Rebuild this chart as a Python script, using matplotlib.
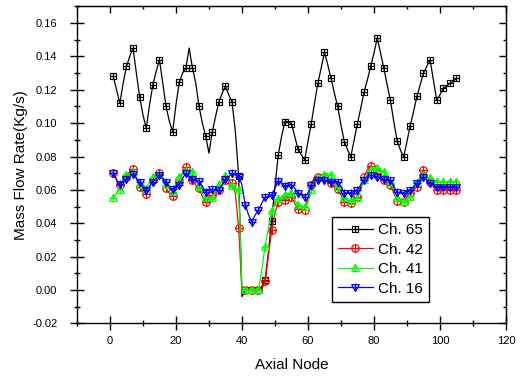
import numpy as np
import matplotlib
matplotlib.use("Agg")
import matplotlib.pyplot as plt
from matplotlib.path import Path
from matplotlib.ticker import MultipleLocator, FormatStrFormatter

plt.rcParams['font.family'] = ['Liberation Sans', 'DejaVu Sans']
plt.rcParams['axes.unicode_minus'] = False

nodes = np.arange(1, 106)

ch65 = [0.128, 0.120, 0.112, 0.124, 0.134, 0.140, 0.145, 0.130, 0.1156, 0.105,
        0.097, 0.111, 0.123, 0.131, 0.138, 0.124, 0.110, 0.101, 0.0948, 0.111,
        0.1246, 0.130, 0.133, 0.145, 0.133, 0.124, 0.110, 0.100, 0.0924, 0.082,
        0.0946, 0.104, 0.1126, 0.118, 0.122, 0.117, 0.1126, 0.095, 0.0686, -0.004,
        0.000, 0.000, 0.000, 0.000, 0.000, 0.002, 0.006, 0.022, 0.0416, 0.062,
        0.081, 0.092, 0.101, 0.101, 0.0998, 0.092, 0.0844, 0.081, 0.078, 0.089,
        0.0998, 0.112, 0.124, 0.133, 0.1426, 0.135, 0.1268, 0.118, 0.110, 0.099,
        0.089, 0.084, 0.080, 0.090, 0.0998, 0.109, 0.1186, 0.126, 0.134, 0.142,
        0.151, 0.142, 0.133, 0.123, 0.1136, 0.101, 0.0896, 0.084, 0.0798, 0.089,
        0.0986, 0.107, 0.116, 0.123, 0.130, 0.134, 0.138, 0.126, 0.114, 0.117,
        0.1208, 0.122, 0.124, 0.125, 0.127]

ch42 = [0.0704, 0.066, 0.063, 0.066, 0.068, 0.071, 0.0726, 0.067, 0.062, 0.059,
        0.0574, 0.062, 0.066, 0.069, 0.0704, 0.066, 0.061, 0.058, 0.0566, 0.062,
        0.066, 0.070, 0.0736, 0.070, 0.066, 0.063, 0.061, 0.056, 0.0526, 0.055,
        0.057, 0.059, 0.060, 0.063, 0.066, 0.065, 0.064, 0.058, 0.0374, 0.000,
        0.000, 0.000, 0.000, 0.000, 0.000, 0.000, 0.0054, 0.020, 0.036, 0.046,
        0.053, 0.054, 0.054, 0.055, 0.056, 0.052, 0.0484, 0.048, 0.048, 0.055,
        0.063, 0.068, 0.068, 0.0684, 0.068, 0.066, 0.064, 0.062, 0.0604, 0.057,
        0.0526, 0.052, 0.052, 0.054, 0.056, 0.062, 0.068, 0.072, 0.0744, 0.072,
        0.070, 0.068, 0.066, 0.064, 0.063, 0.058, 0.0536, 0.053, 0.053, 0.056,
        0.058, 0.060, 0.062, 0.068, 0.072, 0.068, 0.065, 0.062, 0.060, 0.060,
        0.060, 0.060, 0.060, 0.060, 0.060]

ch41 = [0.0554, 0.058, 0.060, 0.066, 0.069, 0.070, 0.071, 0.067, 0.063, 0.061,
        0.0604, 0.065, 0.068, 0.069, 0.069, 0.066, 0.063, 0.061, 0.059, 0.064,
        0.068, 0.070, 0.0716, 0.072, 0.071, 0.066, 0.062, 0.058, 0.055, 0.055,
        0.055, 0.059, 0.063, 0.066, 0.0684, 0.065, 0.0624, 0.061, 0.060, 0.001,
        0.000, 0.000, 0.000, 0.000, 0.000, 0.012, 0.026, 0.037, 0.0474, 0.051,
        0.0544, 0.056, 0.057, 0.058, 0.058, 0.054, 0.051, 0.050, 0.050, 0.052,
        0.060, 0.066, 0.067, 0.068, 0.069, 0.070, 0.069, 0.065, 0.062, 0.058,
        0.055, 0.054, 0.0536, 0.054, 0.055, 0.060, 0.066, 0.070, 0.072, 0.073,
        0.073, 0.072, 0.071, 0.068, 0.064, 0.060, 0.055, 0.053, 0.053, 0.054,
        0.056, 0.060, 0.064, 0.067, 0.069, 0.068, 0.067, 0.066, 0.065, 0.065,
        0.065, 0.065, 0.065, 0.065, 0.065]

ch16 = [0.0704, 0.066, 0.0634, 0.065, 0.0664, 0.068, 0.0696, 0.067, 0.065, 0.062,
        0.060, 0.062, 0.065, 0.067, 0.0688, 0.067, 0.0646, 0.062, 0.0604, 0.062,
        0.0632, 0.067, 0.070, 0.068, 0.0666, 0.066, 0.0656, 0.062, 0.059, 0.060,
        0.0604, 0.060, 0.060, 0.063, 0.0664, 0.068, 0.070, 0.069, 0.068, 0.063,
        0.051, 0.045, 0.0406, 0.045, 0.048, 0.052, 0.0556, 0.056, 0.057, 0.061,
        0.0656, 0.064, 0.0622, 0.063, 0.063, 0.061, 0.058, 0.057, 0.056, 0.058,
        0.063, 0.066, 0.066, 0.067, 0.066, 0.065, 0.065, 0.065, 0.065, 0.062,
        0.0584, 0.058, 0.0584, 0.059, 0.060, 0.063, 0.066, 0.068, 0.069, 0.0685,
        0.068, 0.067, 0.0664, 0.066, 0.066, 0.062, 0.059, 0.058, 0.0584, 0.059,
        0.060, 0.062, 0.064, 0.066, 0.068, 0.066, 0.064, 0.063, 0.062, 0.062,
        0.062, 0.062, 0.062, 0.062, 0.062]

labels = ["Ch. 65", "Ch. 42", "Ch. 41", "Ch. 16"]
colors = ["black", "#ff0000", "#00ff00", "#0000ff"]


# Origin-style markers: outline with a plus inside
def plus_marker(outline):
    return Path.make_compound_path(outline,
                                   Path([(-1, 0), (1, 0)]),
                                   Path([(0, -1), (0, 1)]))


sq = Path([(-1, -1), (1, -1), (1, 1), (-1, 1), (-1, -1)], closed=True)
tri_up = Path([(0, 1), (-0.95, -0.7), (0.95, -0.7), (0, 1)], closed=True)
tri_dn = Path([(0, -1), (-0.95, 0.7), (0.95, 0.7), (0, -1)], closed=True)
markers = [plus_marker(sq), plus_marker(Path.unit_circle()),
           plus_marker(tri_up), plus_marker(tri_dn)]
msizes = [5.0, 5.4, 5.8, 5.8]

fig = plt.figure(figsize=(5.2, 3.76), dpi=100)
ax = fig.add_axes([0.148, 0.140, 0.825, 0.843])

for data, lab, c, m, ms in zip([ch65, ch42, ch41, ch16], labels, colors, markers, msizes):
    ax.plot(nodes, data, color=c, lw=0.9, marker=m, markersize=ms,
            markerfacecolor='none', markeredgecolor=c, markeredgewidth=0.85,
            markevery=2, label=lab)

ax.set_xlim(-10, 120)
ax.set_ylim(-0.02, 0.17)
ax.xaxis.set_major_locator(MultipleLocator(20))
ax.xaxis.set_minor_locator(MultipleLocator(10))
ax.yaxis.set_major_locator(MultipleLocator(0.02))
ax.yaxis.set_minor_locator(MultipleLocator(0.01))
ax.yaxis.set_major_formatter(FormatStrFormatter('%.2f'))
ax.set_yticks(np.arange(-0.02, 0.161, 0.02))

for sp in ax.spines.values():
    sp.set_linewidth(1.0)
ax.tick_params(which='major', direction='inout', length=9.5, width=1.0,
               labelsize=8, pad=4.5)
ax.tick_params(which='minor', direction='inout', length=4.3, width=1.0)
ax.tick_params(axis='y', which='major', pad=9.4)

top = ax.secondary_xaxis('top')
top.xaxis.set_major_locator(MultipleLocator(20))
top.xaxis.set_minor_locator(MultipleLocator(10))
top.tick_params(which='major', direction='in', length=4.8, width=1.0, labeltop=False)
top.tick_params(which='minor', direction='in', length=2.4, width=1.0)
right = ax.secondary_yaxis('right')
right.yaxis.set_major_locator(MultipleLocator(0.02))
right.yaxis.set_minor_locator(MultipleLocator(0.01))
right.tick_params(which='major', direction='in', length=4.8, width=1.0, labelright=False)
right.tick_params(which='minor', direction='in', length=2.4, width=1.0)

ax.set_xlabel("Axial Node", fontsize=11)
ax.set_ylabel("Mass Flow Rate(Kg/s)", fontsize=11)
ax.xaxis.set_label_coords(0.5, -0.108)
ax.yaxis.set_label_coords(-0.113, 0.5)

leg = ax.legend(loc='lower left', bbox_to_anchor=(0.594, 0.068), borderaxespad=0,
                fontsize=11, handlelength=2.3, handletextpad=0.3, borderpad=0.4,
                labelspacing=0.36, numpoints=1, fancybox=False, framealpha=1,
                edgecolor='black')
leg.get_frame().set_linewidth(1.0)

plt.savefig("out.png", dpi=100)
